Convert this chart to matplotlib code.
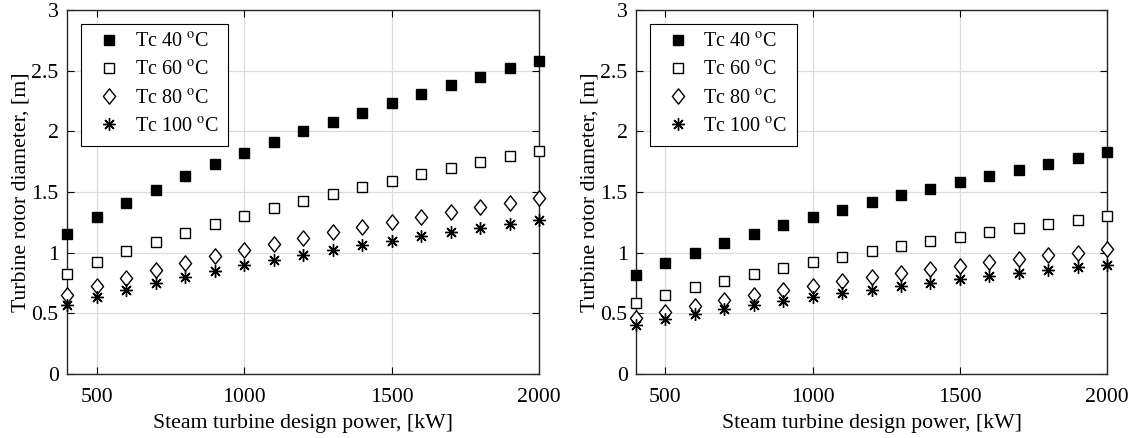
import numpy as np
import matplotlib
matplotlib.use("Agg")
import matplotlib.pyplot as plt
from matplotlib.path import Path

plt.rcParams['font.family'] = ['Liberation Serif', 'DejaVu Serif']
plt.rcParams['mathtext.fontset'] = 'stix'
plt.rcParams['font.size'] = 15.7

# data
power = [400, 500, 600, 700, 800, 900, 1000, 1100, 1200, 1300, 1400,
         1500, 1600, 1700, 1800, 1900, 2000]

labels = ['Tc 40 $^{\\rm o}$C', 'Tc 60 $^{\\rm o}$C',
          'Tc 80 $^{\\rm o}$C', 'Tc 100 $^{\\rm o}$C']

left_tc40 = [1.15, 1.29, 1.41, 1.52, 1.63, 1.73, 1.82, 1.91, 2.00, 2.08,
             2.15, 2.23, 2.31, 2.38, 2.45, 2.52, 2.58]
left_tc60 = [0.825, 0.92, 1.01, 1.09, 1.16, 1.235, 1.30, 1.366, 1.426, 1.484,
             1.538, 1.593, 1.648, 1.697, 1.746, 1.795, 1.842]
left_tc80 = [0.65, 0.727, 0.792, 0.855, 0.918, 0.973, 1.025, 1.074, 1.123,
             1.167, 1.21, 1.254, 1.295, 1.333, 1.374, 1.413, 1.448]
left_tc100 = [0.568, 0.634, 0.694, 0.751, 0.80, 0.85, 0.896, 0.94, 0.984,
              1.022, 1.063, 1.098, 1.134, 1.169, 1.205, 1.238, 1.27]

right_tc40 = [0.816, 0.912, 1.0, 1.079, 1.153, 1.225, 1.293, 1.353, 1.416,
              1.474, 1.526, 1.584, 1.633, 1.682, 1.732, 1.781, 1.827]
right_tc60 = [0.584, 0.652, 0.715, 0.77, 0.825, 0.874, 0.923, 0.967, 1.011,
              1.052, 1.093, 1.132, 1.167, 1.203, 1.238, 1.271, 1.304]
right_tc80 = [0.46, 0.515, 0.564, 0.611, 0.655, 0.693, 0.729, 0.764, 0.80,
              0.83, 0.863, 0.893, 0.92, 0.951, 0.978, 1.0, 1.027]
right_tc100 = [0.403, 0.452, 0.496, 0.534, 0.57, 0.603, 0.636, 0.666, 0.696,
               0.726, 0.753, 0.781, 0.808, 0.833, 0.858, 0.879, 0.901]

# matlab-like diamond
diamond = Path([(0, 1), (0.8, 0), (0, -1), (-0.8, 0), (0, 1)],
               [Path.MOVETO, Path.LINETO, Path.LINETO, Path.LINETO, Path.CLOSEPOLY])

styles = [
    dict(marker='s', ms=7.5, mfc='black', mec='black'),
    dict(marker='s', ms=7, mfc='white', mec='black', mew=1.0),
    dict(marker=diamond, ms=11, mfc='white', mec='black', mew=1.0),
    dict(marker=(8, 2, 0), ms=9, mfc='none', mec='black', mew=1.0),
]

fig = plt.figure(figsize=(11.38, 4.38), dpi=100)
W, H = 1138, 438
ax1 = fig.add_axes([67 / W, (H - 374) / H, 472 / W, 364 / H])
ax2 = fig.add_axes([636 / W, (H - 374) / H, 471 / W, 364 / H])

panels = [
    (ax1, [left_tc40, left_tc60, left_tc80, left_tc100]),
    (ax2, [right_tc40, right_tc60, right_tc80, right_tc100]),
]

for ax, series in panels:
    for vals, lab, st in zip(series, labels, styles):
        ax.plot(power, vals, linestyle='none', label=lab, clip_on=False,
                zorder=3, **st)
    ax.set_xlim(400, 2000)
    ax.set_ylim(0, 3)
    ax.set_xticks([500, 1000, 1500, 2000])
    ax.set_yticks([0, 0.5, 1, 1.5, 2, 2.5, 3])
    ax.set_yticklabels(['0', '0.5', '1', '1.5', '2', '2.5', '3'])
    ax.grid(True, color='#dcdcdc', linewidth=0.9)
    ax.set_axisbelow(True)
    ax.tick_params(direction='in', top=True, right=True, length=5,
                   width=0.8, labelsize=15.7)
    ax.tick_params(axis='x', pad=10)
    ax.tick_params(axis='y', pad=6)
    for sp in ax.spines.values():
        sp.set_color('#262626')
        sp.set_linewidth(1.0)
    ax.set_xlabel('Steam turbine design power, [kW]', labelpad=5)
    ax.set_ylabel('Turbine rotor diameter, [m]', labelpad=0.5)
    leg = ax.legend(loc='upper left', bbox_to_anchor=(0.03, 0.962),
                    borderaxespad=0,
                    fancybox=False, edgecolor='black', framealpha=1,
                    fontsize=14.5, handlelength=1.9, handletextpad=0.3,
                    labelspacing=0.45, borderpad=0.45)
    leg.get_frame().set_linewidth(0.8)

plt.savefig('out.png', dpi=100)
